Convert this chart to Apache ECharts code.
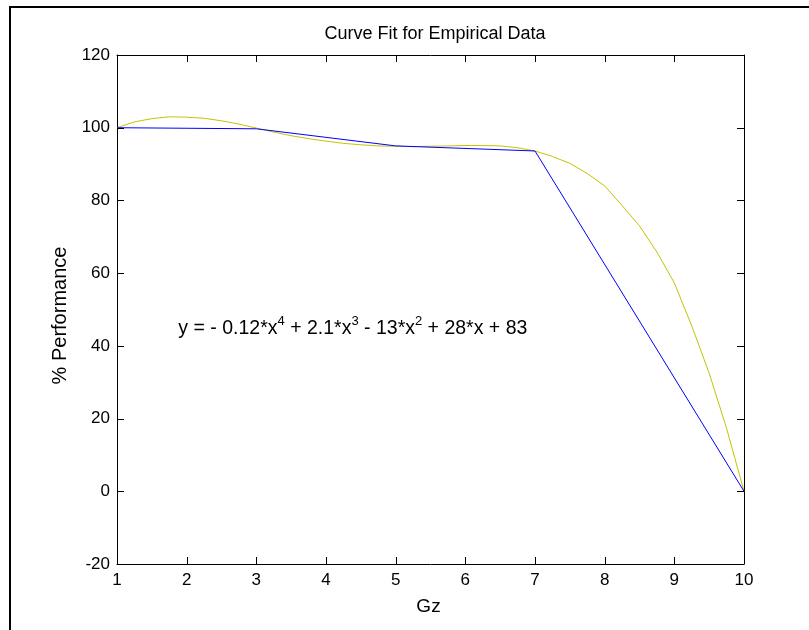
<!DOCTYPE html>
<html>
<head>
<meta charset="utf-8">
<script src="https://cdn.jsdelivr.net/npm/echarts@6/dist/echarts.min.js"></script>
<style>
  html, body { margin: 0; padding: 0; background: #fff; }
  #chart { width: 809px; height: 630px; }
</style>
</head>
<body>
<div id="chart"></div>
<script>
// Measured performance at each Gz level
const gzPoints = [1, 3, 5, 7, 10];
const performance = [100, 99.7, 95.0, 93.6, 0];

// Fitted quartic curve, sampled every 0.25 Gz
const fitGz = [1, 1.25, 1.5, 1.75, 2, 2.25, 2.5, 2.75, 3, 3.25, 3.5, 3.75, 4, 4.25, 4.5, 4.75,
  5, 5.25, 5.5, 5.75, 6, 6.25, 6.5, 6.75, 7, 7.25, 7.5, 7.75, 8, 8.25, 8.5, 8.75,
  9, 9.25, 9.5, 9.75, 10];
const fitPerformance = [100, 101.6, 102.5, 103.0, 102.9, 102.6, 101.9, 101.0, 99.9, 98.8, 97.8, 97.0,
  96.3, 95.7, 95.3, 95.0, 94.9, 94.8, 94.9, 95.0, 95.1, 95.1, 95.0, 94.5, 93.6, 92.1, 90.2, 87.4,
  84.0, 78.6, 73.0, 65.8, 57.3, 45.5, 32.5, 17.3, 0];

// Tick values on the box
const xTicks = [1, 2, 3, 4, 5, 6, 7, 8, 9, 10];
const yTicks = [-20, 0, 20, 40, 60, 80, 100, 120];

const equationLabel = ['y = - 0.12*x', '4', ' + 2.1*x', '3', ' - 13*x', '2', ' + 28*x + 83'];
const equationAnchor = [1.88, 45.2];

const titleText = 'Curve Fit for Empirical Data';
const xName = 'Gz';
const yName = '% Performance';

const FONT = '"Liberation Sans", Arial, Helvetica, sans-serif';
const TICK_LEN = 7;

const chart = echarts.init(document.getElementById('chart'));

const pair = (xs, ys) => xs.map((x, i) => [x, ys[i]]);
const xMin = xTicks[0], xMax = xTicks[xTicks.length - 1];
const yMin = yTicks[0], yMax = yTicks[yTicks.length - 1];

const axisLineStyle = () => ({ show: true, onZero: false, lineStyle: { color: '#000', width: 1 } });

const option = {
  backgroundColor: '#fff',
  animation: false,
  title: {
    text: titleText,
    left: 430, top: 20, textAlign: 'center',
    textStyle: { fontFamily: FONT, fontSize: 18, fontWeight: 'normal', color: '#000' }
  },
  grid: { left: 117, right: 65, top: 55, bottom: 66 },
  xAxis: [
    {
      type: 'value', min: xMin, max: xMax, interval: 1, position: 'bottom',
      name: xName, nameLocation: 'middle', nameGap: 33,
      nameTextStyle: { fontFamily: FONT, fontSize: 19, color: '#000', padding: [0, 4, 0, 0] },
      axisLine: axisLineStyle(), axisTick: { show: false }, splitLine: { show: false },
      axisLabel: { fontFamily: FONT, fontSize: 17, color: '#000', margin: 8 }
    },
    {
      type: 'value', min: xMin, max: xMax, interval: 1, position: 'top',
      axisLine: axisLineStyle(), axisTick: { show: false }, splitLine: { show: false },
      axisLabel: { show: false }
    }
  ],
  yAxis: [
    {
      type: 'value', min: yMin, max: yMax, interval: 20, position: 'left',
      name: yName, nameLocation: 'middle', nameGap: 44,
      nameTextStyle: { fontFamily: FONT, fontSize: 20, color: '#000', padding: [0, 12, 0, 0] },
      axisLine: axisLineStyle(), axisTick: { show: false }, splitLine: { show: false },
      axisLabel: { fontFamily: FONT, fontSize: 17, color: '#000', margin: 7 }
    },
    {
      type: 'value', min: yMin, max: yMax, interval: 20, position: 'right',
      axisLine: axisLineStyle(), axisTick: { show: false }, splitLine: { show: false },
      axisLabel: { show: false }
    }
  ],
  series: [
    {
      name: 'fit', type: 'line', xAxisIndex: 0, yAxisIndex: 0,
      data: pair(fitGz, fitPerformance),
      showSymbol: false, smooth: false,
      lineStyle: { color: '#c4c400', width: 1 }
    },
    {
      name: 'measured', type: 'line', xAxisIndex: 0, yAxisIndex: 0,
      data: pair(gzPoints, performance),
      showSymbol: false, smooth: false,
      lineStyle: { color: '#0000ff', width: 1 }
    }
  ]
};

chart.setOption(option);

const toPx = (pt) => chart.convertToPixel({ gridIndex: 0 }, pt);
const crisp = (v) => Math.round(v) + 0.5;
const tickLine = (x1, y1, x2, y2) => ({
  type: 'line', silent: true, z: 10,
  shape: { x1, y1, x2, y2 },
  style: { stroke: '#000', lineWidth: 1 }
});

// Inward ticks on all four sides of the box
const ticks = [];
xTicks.forEach((v) => {
  const b = toPx([v, yMin]);
  const t = toPx([v, yMax]);
  ticks.push(tickLine(crisp(b[0]), b[1], crisp(b[0]), b[1] - TICK_LEN));
  ticks.push(tickLine(crisp(t[0]), t[1], crisp(t[0]), t[1] + TICK_LEN));
});
yTicks.forEach((v) => {
  const l = toPx([xMin, v]);
  const r = toPx([xMax, v]);
  ticks.push(tickLine(l[0], crisp(l[1]), l[0] + TICK_LEN, crisp(l[1])));
  ticks.push(tickLine(r[0], crisp(r[1]), r[0] - TICK_LEN, crisp(r[1])));
});

// Equation annotation anchored in data coordinates
const anchor = toPx(equationAnchor);
const richText = equationLabel.map((s, i) => (i % 2 === 1 ? '{sup|' + s + '}' : '{n|' + s + '}')).join('');

chart.setOption({
  graphic: ticks.concat([
    {
      type: 'text', x: anchor[0], y: anchor[1],
      style: {
        text: richText,
        verticalAlign: 'middle', align: 'left',
        rich: {
          n: { fontFamily: FONT, fontSize: 19.5, color: '#000', lineHeight: 24, verticalAlign: 'bottom' },
          sup: { fontFamily: FONT, fontSize: 13, color: '#000', lineHeight: 24, verticalAlign: 'top' }
        }
      }
    },
    {
      type: 'polyline',
      shape: { points: [[10, 630], [10, 7], [809, 7]] },
      style: { stroke: '#000', lineWidth: 2, fill: null }
    }
  ])
});
</script>
</body>
</html>
